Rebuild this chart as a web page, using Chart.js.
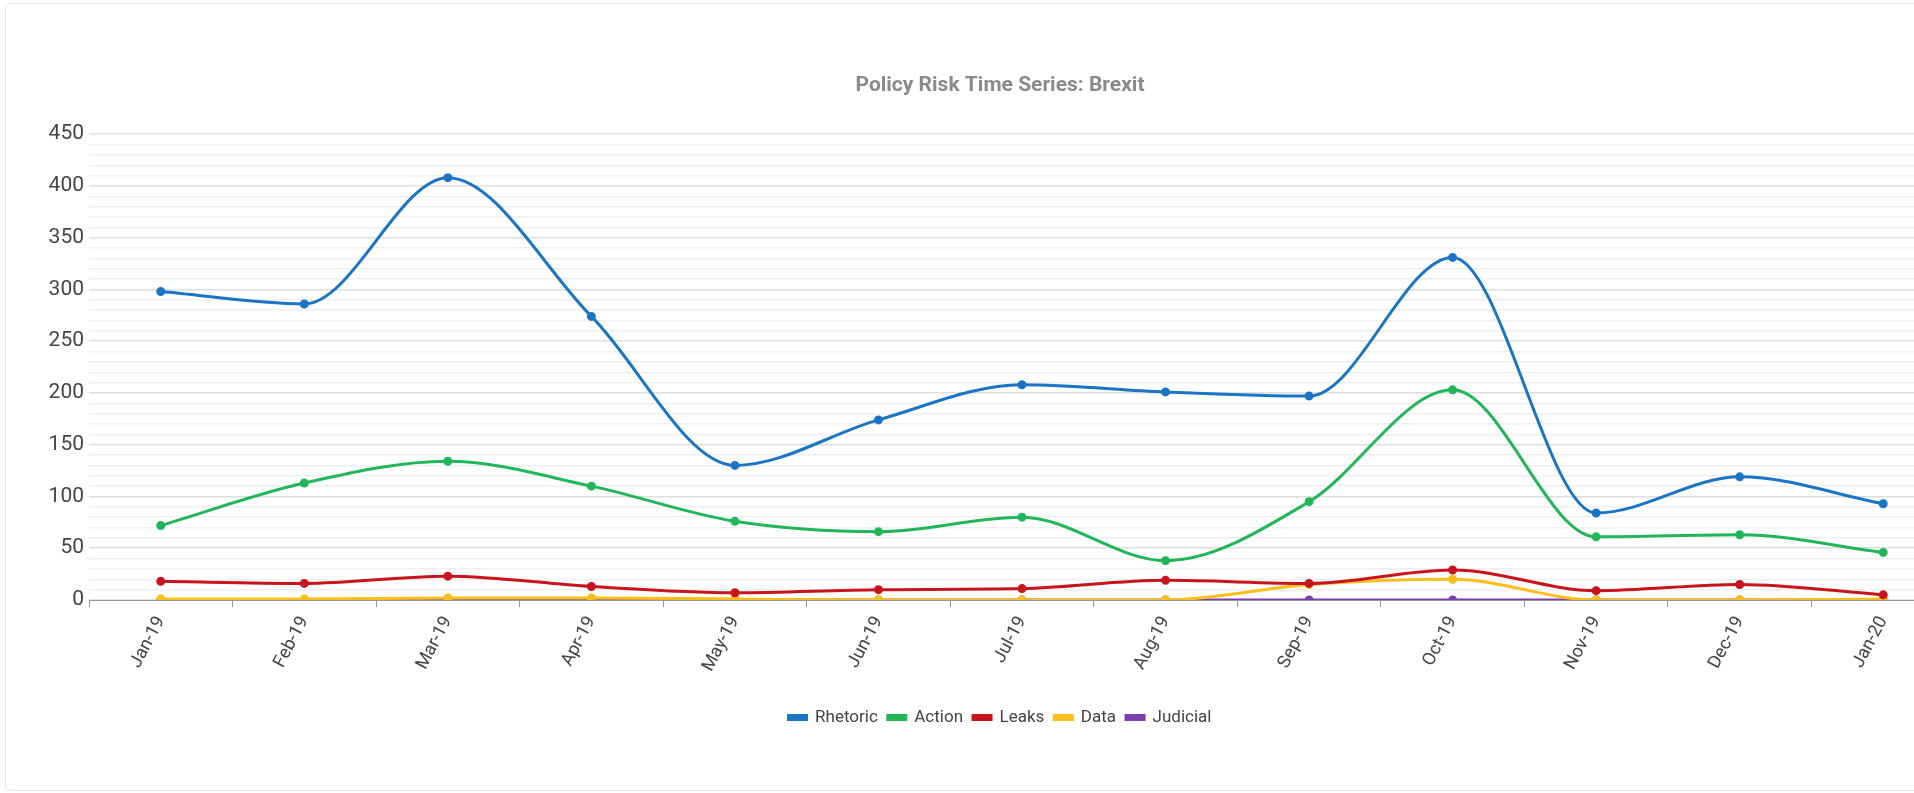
<!DOCTYPE html>
<html>
<head>
<meta charset="utf-8">
<script src="https://cdn.jsdelivr.net/npm/chart.js@4/dist/chart.umd.min.js"></script>
<style>
  html, body { margin: 0; padding: 0; background: #ffffff; overflow: hidden; width: 1914px; height: 793px; }
  #card {
    position: absolute; left: 5px; top: 3px; width: 2060px; height: 786px;
    border: 1px solid #e3e3e3; border-radius: 6px; background: #fff;
  }
  #chart { position: absolute; left: 8px; top: 4px; }
</style>
</head>
<body>
<div id="card"></div>
<canvas id="chart" width="1984" height="780"></canvas>
<script>
// chart data
const months = ["Jan-19", "Feb-19", "Mar-19", "Apr-19", "May-19", "Jun-19", "Jul-19",
                "Aug-19", "Sep-19", "Oct-19", "Nov-19", "Dec-19", "Jan-20"];
const rhetoric = [298, 286, 408, 274, 130, 174, 208, 201, 197, 331, 84, 119, 93];
const action   = [72, 113, 134, 110, 76, 66, 80, 38, 95, 203, 61, 63, 46];
const leaks    = [18, 16, 23, 13, 7, 10, 11, 19, 16, 29, 9, 15, 5];
const dataVals = [1, 1, 2, 2, 1, 0, 0, 0, 15, 20, 0, 0, 1];
const judicial = [0, 0, 0, 0, 0, 0, 0, 0, 0, 0, 0, 0, 0];
const yTicks = [0, 50, 100, 150, 200, 250, 300, 350, 400, 450];

function line(label, values, color) {
    return {
        label: label,
        data: values,
        borderColor: color,
        backgroundColor: color,
        borderWidth: 3,
        pointRadius: 3,
        pointBackgroundColor: color,
        pointBorderColor: color,
        cubicInterpolationMode: 'monotone',
        fill: false
    };
}

const ctx = document.getElementById('chart');
const lineChart = new Chart(ctx, {
    type: 'line',
    data: {
        labels: months,
        datasets: [
            line("Rhetoric", rhetoric, "#1c74c4"),
            line("Action", action, "#22b55a"),
            line("Leaks", leaks, "#c8141c"),
            line("Data", dataVals, "#fbbf1a"),
            line("Judicial", judicial, "#7b3fb0")
        ]
    },
    options: {
        responsive: false,
        animation: false,
        layout: { padding: { left: 0, right: 0, top: 0, bottom: 48 } },
        plugins: {
            title: {
                display: true,
                text: "Policy Risk Time Series: Brexit",
                color: "#8a8a8a",
                font: { family: "Roboto", size: 21, weight: "bold" },
                padding: { top: 69, bottom: 36 }
            },
            legend: {
                position: 'bottom',
                labels: {
                    color: "#444",
                    font: { family: "Roboto", size: 17 },
                    boxWidth: 18,
                    boxHeight: 4,
                    padding: 10
                }
            },
            tooltip: { enabled: false }
        },
        scales: {
            x: {
                offset: true,
                grid: {
                    display: true,
                    drawOnChartArea: false,
                    drawTicks: true,
                    tickLength: 7,
                    offset: true,
                    color: "#999"
                },
                border: { display: true, color: "#999", width: 1 },
                ticks: {
                    color: "#444",
                    font: { family: "Roboto", size: 18 },
                    minRotation: 62,
                    maxRotation: 62,
                    padding: 6,
                    autoSkip: false
                },
                afterFit: (scale) => { scale.height = 99; }
            },
            y: {
                min: 0,
                max: 450,
                border: { display: false },
                grid: {
                    drawTicks: false,
                    color: (c) => (c.tick.value % 50 === 0 ? "#dedede" : "#efefef"),
                    lineWidth: 1.5
                },
                ticks: {
                    stepSize: 10,
                    autoSkip: false,
                    padding: 5,
                    color: "#444",
                    font: { family: "Roboto", size: 21 },
                    callback: (v) => (yTicks.includes(v) ? String(v) : "")
                },
                afterFit: (scale) => { scale.width = 81; }
            },
            // empty right-hand axis: only reserves space so the plot ends where the original did
            yRight: {
                position: 'right',
                min: 0,
                max: 450,
                grid: { display: false },
                border: { display: false },
                ticks: { display: false },
                afterFit: (scale) => { scale.width = 37; }
            }
        }
    }
});
</script>
</body>
</html>
